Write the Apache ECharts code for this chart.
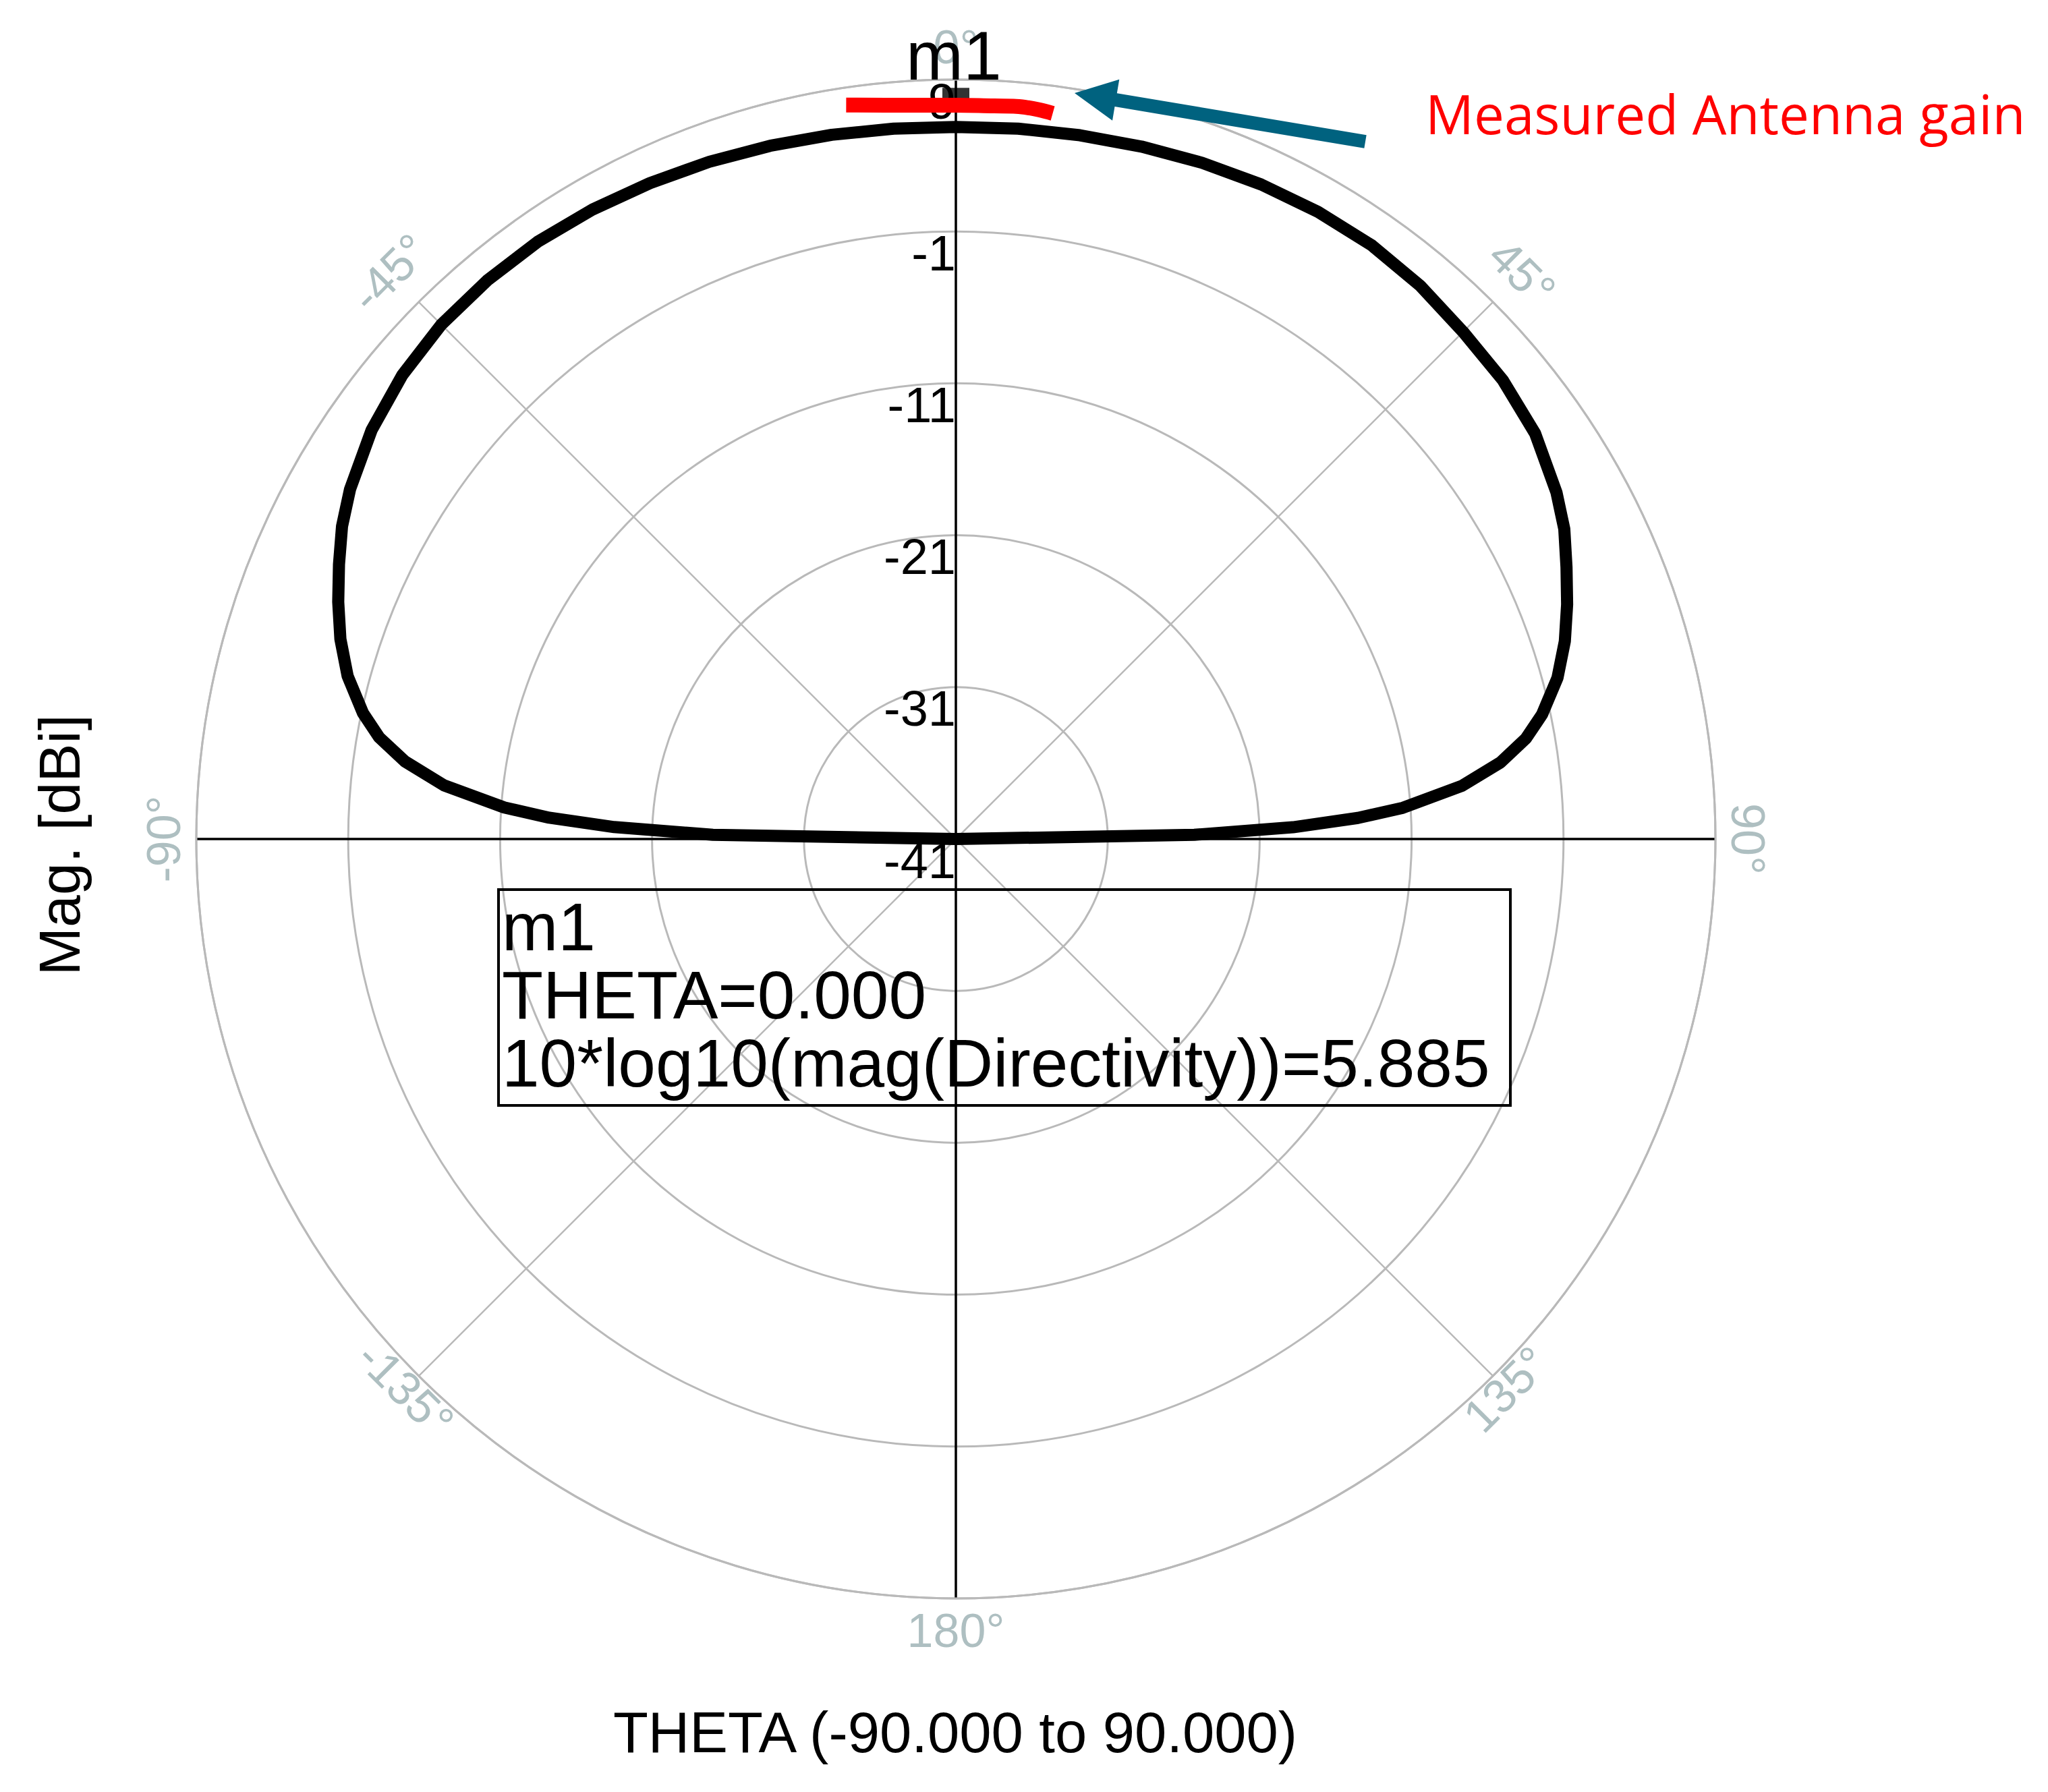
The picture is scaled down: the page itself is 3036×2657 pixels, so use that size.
<!DOCTYPE html>
<html>
<head>
<meta charset="utf-8">
<script src="https://cdn.jsdelivr.net/npm/echarts@6/dist/echarts.min.js"></script>
<style>
html,body{margin:0;padding:0;background:#fff;}
#chart{width:3036px;height:2657px;}
</style>
</head>
<body>
<div id="chart"></div>
<script>
// ---------- data ----------
const THETA = [-90,-89,-88,-87,-86,-84,-82,-80,-78,-75,-72,-69,-66,-63,-60,-55,-50,-45,-40,-35,-30,-25,-20,-15,-10,-5,
               0,5,10,15,20,25,30,35,40,45,50,55,60,63,66,69,72,75,78,80,82,84,86,87,88,89,90];
const DIRECTIVITY_DB = [-41,-25,-18.5,-14.2,-11.2,-7.1,-4.4,-2.45,-1.1,0.45,1.6,2.55,3.45,4.35,5.05,5.95,6.55,6.9,7.0,7.0,6.85,6.65,6.45,6.25,6.08,5.95,
               5.885,5.95,6.05,6.2,6.38,6.55,6.68,6.72,6.55,6.22,6.0,5.55,4.65,3.95,3.0,2.1,1.15,0.0,-1.55,-2.9,-4.8,-7.5,-11.5,-14.5,-18.8,-25.3,-41];
const MEAS_THETA = [-8.5, -4, 0, 3, 4.5, 5.5, 6.5, 7.6];
const MEAS_DB = [7.86, 7.43, 7.31, 7.33, 7.40, 7.39, 7.32, 7.2];
const MARKER_THETA = 0;
const MARKER_DB = 5.885;
const RADIUS_TICKS = [-41, -31, -21, -11, -1, 9];
const ANGLE_TICKS = [0, 45, 90, 135, 180, -135, -90, -45];
const RADIUS_TITLE = 'Mag. [dBi]';
const ANGLE_TITLE = 'THETA (-90.000 to 90.000)';
const MARKER_TEXT = ['m1', 'THETA=0.000', '10*log10(mag(Directivity))=5.885'];
const ANNOTATION = 'Measured Antenna gain';

// ---------- layout ----------
const CX = 1417, CY = 1244, R = 1126;
const GRID_GRAY = '#b9b9b9';
const LABEL_GRAY = '#aebfc1';
const FONT = '"Liberation Sans", Arial, sans-serif';

const chart = echarts.init(document.getElementById('chart'), null, {renderer: 'svg'});

function angleLabelOffset(a) {
  const m = Math.abs(a);
  if (m === 45) return 61;
  if (m === 135) return 28;
  return 48;
}
function angleLabelRotation(a) {
  let cw;
  if (Math.abs(a) <= 90) cw = a;
  else if (a > 0) cw = a - 180;
  else cw = a + 180;
  return -cw * Math.PI / 180;
}

// arrow polygon
const tip = [1593, 138], tail = [2024, 210];
const ux = tip[0] - tail[0], uy = tip[1] - tail[1];
const ul = Math.hypot(ux, uy);
const u = [ux / ul, uy / ul], n = [-u[1], u[0]];
const headLen = 62, headHalf = 31, shaftHalf = 10;
const base = [tip[0] - u[0] * headLen, tip[1] - u[1] * headLen];
const arrowPts = [
  [tail[0] + n[0] * shaftHalf, tail[1] + n[1] * shaftHalf],
  [base[0] + n[0] * shaftHalf, base[1] + n[1] * shaftHalf],
  [base[0] + n[0] * headHalf, base[1] + n[1] * headHalf],
  tip,
  [base[0] - n[0] * headHalf, base[1] - n[1] * headHalf],
  [base[0] - n[0] * shaftHalf, base[1] - n[1] * shaftHalf],
  [tail[0] - n[0] * shaftHalf, tail[1] - n[1] * shaftHalf]
];

const option = {
  animation: false,
  backgroundColor: '#fff',
  polar: [
    {center: [CX, CY], radius: R},
    {center: [CX, CY], radius: R}
  ],
  angleAxis: [
    {
      polarIndex: 0, type: 'value', min: -180, max: 180, interval: 45,
      startAngle: 270, clockwise: true,
      axisLine: {show: true, lineStyle: {color: GRID_GRAY, width: 3}},
      axisTick: {show: false}, axisLabel: {show: false},
      splitLine: {show: true, lineStyle: {color: GRID_GRAY, width: 2.5}}
    },
    {
      polarIndex: 1, type: 'value', min: -180, max: 180, interval: 90,
      startAngle: 270, clockwise: true,
      axisLine: {show: false}, axisTick: {show: false}, axisLabel: {show: false},
      splitLine: {show: true, lineStyle: {color: '#000', width: 3.5}}
    }
  ],
  radiusAxis: [
    {
      polarIndex: 0, type: 'value', min: -41, max: 9, interval: 10,
      axisLine: {show: false}, axisTick: {show: false}, axisLabel: {show: false},
      splitLine: {show: true, lineStyle: {color: GRID_GRAY, width: 3}}
    },
    {
      polarIndex: 1, type: 'value', min: -41, max: 9, interval: 10,
      axisLine: {show: false}, axisTick: {show: false}, axisLabel: {show: false},
      splitLine: {show: false}
    }
  ],
  series: [
    {
      type: 'custom', coordinateSystem: 'polar', polarIndex: 0, z: 1, silent: true,
      data: ANGLE_TICKS.map(a => [9, a]),
      renderItem: function (params, api) {
        const a = api.value(1);
        const p = api.coord([9, a]);
        const c = api.coord([-41, a]);
        const dx = p[0] - c[0], dy = p[1] - c[1];
        const l = Math.hypot(dx, dy);
        const d = angleLabelOffset(a);
        return {
          type: 'text',
          x: p[0] + dx / l * d, y: p[1] + dy / l * d,
          rotation: angleLabelRotation(a),
          style: {text: a + '°', font: '70px ' + FONT, fill: LABEL_GRAY, align: 'center', verticalAlign: 'middle'}
        };
      }
    },
    {
      type: 'line', coordinateSystem: 'polar', polarIndex: 0, z: 3, silent: true,
      showSymbol: false, symbol: 'none', smooth: false,
      lineStyle: {color: '#000', width: 18, join: 'round', cap: 'round'},
      data: THETA.map((t, i) => [DIRECTIVITY_DB[i], t])
    },
    {
      type: 'custom', coordinateSystem: 'polar', polarIndex: 0, z: 4, silent: true,
      data: RADIUS_TICKS.map(v => [v, 0]),
      renderItem: function (params, api) {
        const v = api.value(0);
        const p = api.coord([v, 0]);
        return {
          type: 'text', x: p[0], y: p[1] + 32,
          style: {text: String(v), font: '74px ' + FONT, fill: '#000', align: 'right', verticalAlign: 'middle'}
        };
      }
    },
    {
      type: 'scatter', coordinateSystem: 'polar', polarIndex: 0, z: 5, silent: true,
      symbol: 'rect', symbolSize: [40, 36], symbolOffset: [0, -40],
      itemStyle: {color: '#000'},
      data: [[MARKER_DB, MARKER_THETA]]
    },
    {
      type: 'line', coordinateSystem: 'polar', polarIndex: 0, z: 6, silent: true,
      showSymbol: false, symbol: 'none', smooth: 0.4,
      lineStyle: {color: '#ff0000', width: 22, cap: 'butt', join: 'round'},
      data: MEAS_THETA.map((t, i) => [MEAS_DB[i], t])
    }
  ],
  graphic: [
    {type: 'text', z: 100, x: 1343, y: 83,
     style: {text: MARKER_TEXT[0], font: '102px ' + FONT, fill: '#000', align: 'left', verticalAlign: 'middle'}},
    {type: 'rect', z: 100, shape: {x: 739, y: 1319, width: 1500, height: 320},
     style: {fill: 'none', stroke: '#000', lineWidth: 4}},
    {type: 'text', z: 100, x: 744, y: 1323,
     style: {text: MARKER_TEXT.join('\n'), font: '100px ' + FONT, lineHeight: 101, fill: '#000', align: 'left', verticalAlign: 'top'}},
    {type: 'text', z: 100, x: 88, y: 1253, rotation: Math.PI / 2,
     style: {text: RADIUS_TITLE, font: '86px ' + FONT, fill: '#000', align: 'center', verticalAlign: 'middle'}},
    {type: 'text', z: 100, x: 1416, y: 2568,
     style: {text: ANGLE_TITLE, font: '85px ' + FONT, fill: '#000', align: 'center', verticalAlign: 'middle'}},
    {type: 'text', z: 100, x: 2113, y: 167,
     style: {text: ANNOTATION, font: '80px "Open Sans", sans-serif', fill: '#ff0000', align: 'left', verticalAlign: 'middle'}},
    {type: 'polygon', z: 100, shape: {points: arrowPts}, style: {fill: '#00627f'}}
  ]
};
chart.setOption(option);
</script>
</body>
</html>
